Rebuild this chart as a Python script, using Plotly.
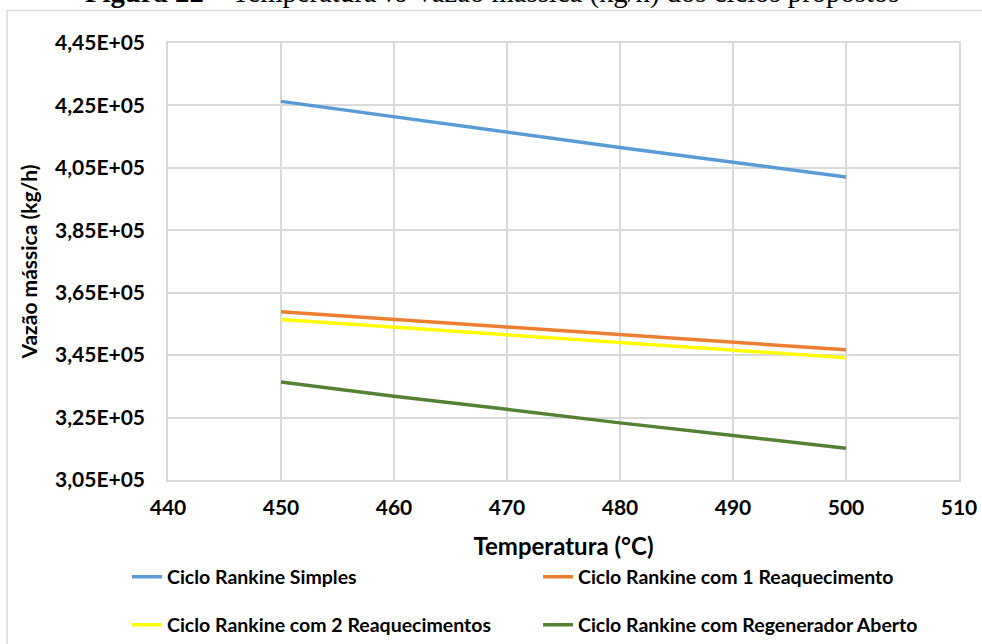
import plotly.graph_objects as go

temperatura = [450, 460, 470, 480, 490, 500]
simples = [426300, 421300, 416400, 411500, 406800, 402100]
reaq1 = [358900, 356500, 354000, 351600, 349150, 346700]
reaq2 = [356400, 353850, 351500, 349050, 346600, 344150]
regen = [336400, 331800, 327650, 323300, 319250, 315200]

series_names = [
    "Ciclo Rankine Simples",
    "Ciclo Rankine com 1 Reaquecimento",
    "Ciclo Rankine com 2 Reaquecimentos",
    "Ciclo Rankine com Regenerador Aberto",
]
series_colors = ["#5B9BD5", "#ED7D31", "#FFFF00", "#548235"]
series_values = [simples, reaq1, reaq2, regen]
series_legend = ["legend", "legend", "legend2", "legend2"]

x_ticks = [440, 450, 460, 470, 480, 490, 500, 510]
y_ticks = [305000, 325000, 345000, 365000, 385000, 405000, 425000, 445000]
y_ticktext = ["3,05E+05", "3,25E+05", "3,45E+05", "3,65E+05",
              "3,85E+05", "4,05E+05", "4,25E+05", "4,45E+05"]

FONT = "Lato"
GRID = "#d9d9d9"

fig = go.Figure()
for name, color, vals, lg in zip(series_names, series_colors, series_values, series_legend):
    fig.add_trace(go.Scatter(
        x=temperatura, y=vals, mode="lines", name=name,
        line=dict(color=color, width=3.5), legend=lg,
    ))

W, H = 982, 644
ml, mr, mt, mb = 168, 23, 43, 164
pw = W - ml - mr
ph = H - mt - mb

def px_x(p):
    return (p - ml) / pw

def px_y(p):
    return (H - mb - p) / ph

legend_common = dict(
    orientation="h", xanchor="left", yanchor="middle",
    entrywidth=366, entrywidthmode="pixels",
    font=dict(family=FONT, size=19.5, weight="bold"), bgcolor="rgba(0,0,0,0)",
)

fig.update_layout(
    width=W, height=H,
    margin=dict(l=ml, r=mr, t=mt, b=mb, autoexpand=False),
    paper_bgcolor="white", plot_bgcolor="white",
    font=dict(family=FONT, color="black"),
    xaxis=dict(
        range=[440, 510], tickvals=x_ticks, ticktext=[str(v) for v in x_ticks],
        showgrid=True, gridcolor=GRID, gridwidth=1.5,
        showline=True, linecolor=GRID, linewidth=1.5, mirror=True,
        ticks="", ticklabelstandoff=8,
        tickfont=dict(family=FONT, size=21, weight="bold"),
        title=dict(text="Temperatura (°C)", standoff=20,
                   font=dict(family=FONT, size=24, weight="bold")),
        zeroline=False,
    ),
    yaxis=dict(
        range=[305000, 445000], tickvals=y_ticks, ticktext=y_ticktext,
        showgrid=True, gridcolor=GRID, gridwidth=1.5,
        showline=True, linecolor=GRID, linewidth=1.5, mirror=True,
        ticks="", ticklabelstandoff=17,
        tickfont=dict(family=FONT, size=21, weight="bold"),
        title=dict(text="Vazão mássica (kg/h)", standoff=12,
                   font=dict(family=FONT, size=21, weight="bold")),
        zeroline=False,
    ),
    legend=dict(legend_common, x=px_x(127), y=px_y(577)),
    legend2=dict(legend_common, x=px_x(127), y=px_y(625)),
    shapes=[dict(
        type="rect", xref="paper", yref="paper",
        x0=px_x(7), x1=px_x(W + 20), y0=px_y(H + 20), y1=px_y(10.5),
        line=dict(color=GRID, width=1.5), fillcolor="rgba(0,0,0,0)", layer="below",
    )],
    annotations=[dict(
        text="<b>Figura 22</b> – Temperatura <i>vs</i> Vazão mássica (kg/h) dos ciclos propostos",
        xref="paper", yref="paper", x=px_x(492), y=px_y(-7),
        xanchor="center", yanchor="middle", showarrow=False,
        font=dict(family="Liberation Serif", size=28.7, color="black"),
    )],
)

fig.write_html("out.html")
